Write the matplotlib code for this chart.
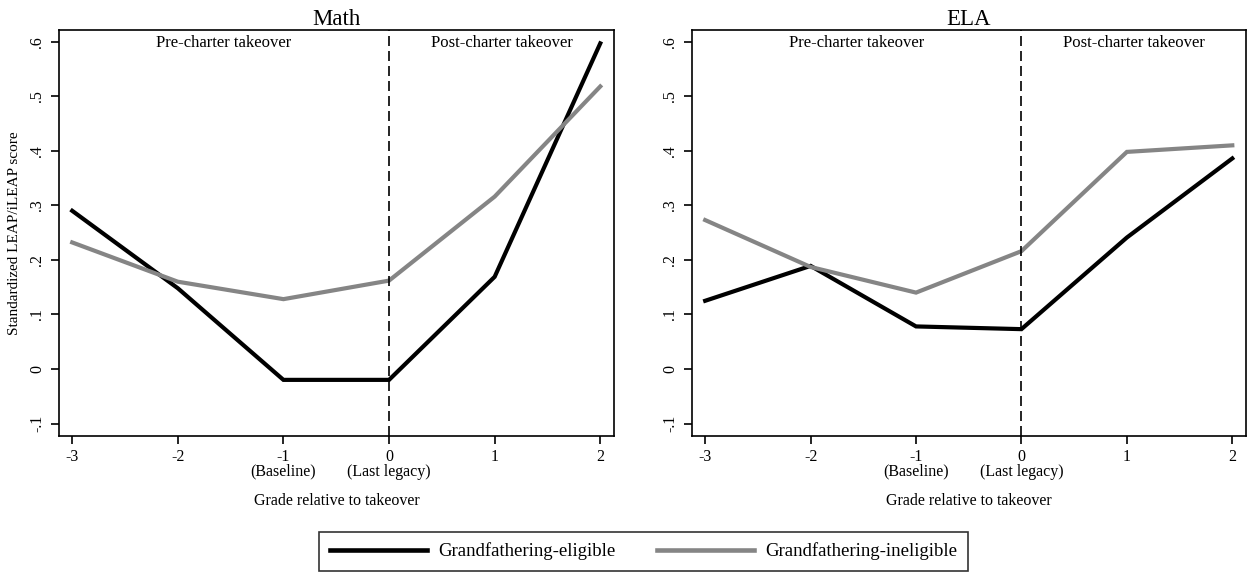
import numpy as np
import matplotlib
matplotlib.use("Agg")
import matplotlib.pyplot as plt
from matplotlib.lines import Line2D

# ---------------------------------------------------------------------
# DATA
# ---------------------------------------------------------------------
GRADES = [-3, -2, -1, 0, 1, 2]
XTICK_LABELS = ["-3", "-2", "-1\n(Baseline)", "0\n(Last legacy)", "1", "2"]
YTICKS = [-0.1, 0.0, 0.1, 0.2, 0.3, 0.4, 0.5, 0.6]
YTICK_LABELS = ["-.1", "0", ".1", ".2", ".3", ".4", ".5", ".6"]

MATH_ELIGIBLE = [0.290, 0.148, -0.020, -0.020, 0.169, 0.597]
MATH_INELIGIBLE = [0.232, 0.160, 0.128, 0.162, 0.316, 0.518]
ELA_ELIGIBLE = [0.125, 0.189, 0.078, 0.073, 0.241, 0.386]
ELA_INELIGIBLE = [0.273, 0.187, 0.140, 0.216, 0.398, 0.410]

# ---------------------------------------------------------------------
# STYLE
# ---------------------------------------------------------------------
plt.rcParams["font.family"] = ["Liberation Serif", "DejaVu Serif"]
BLACK = "#000000"
GRAY = "#858585"
LW = 3.0
XLIM = (-3.125, 2.13)
YLIM = (-0.122, 0.6215)

W, H = 1247, 575
fig = plt.figure(figsize=(W / 100, H / 100), dpi=100)


def px_axes(x0, y0, x1, y1):
    # axes from pixel box (top-left origin)
    return fig.add_axes([x0 / W, 1 - y1 / H, (x1 - x0) / W, (y1 - y0) / H])


def draw_panel(ax, title, eligible, ineligible, ylabel=None):
    ax.plot(GRADES, eligible, color=BLACK, lw=LW, solid_joinstyle="miter")
    ax.plot(GRADES, ineligible, color=GRAY, lw=LW, solid_joinstyle="miter")
    ax.axvline(0, color=BLACK, lw=1.2, linestyle=(0, (6, 3)))

    ax.set_xlim(*XLIM)
    ax.set_ylim(*YLIM)
    ax.set_xticks(GRADES)
    ax.set_xticklabels(XTICK_LABELS, fontsize=11.5, linespacing=0.85)
    ax.set_yticks(YTICKS)
    ax.set_yticklabels(YTICK_LABELS, fontsize=11.5, rotation=90, va="center")
    ax.tick_params(axis="both", direction="out", length=6, width=1.2,
                   color=BLACK, pad=4)
    for sp in ax.spines.values():
        sp.set_linewidth(1.2)

    ax.set_title(title, fontsize=16.5, pad=3)
    ax.set_xlabel("Grade relative to takeover", fontsize=11.5, labelpad=10)
    if ylabel:
        ax.set_ylabel(ylabel, fontsize=11, labelpad=6)

    ax.text((XLIM[0] + 0) / 2, 0.598, "Pre-charter takeover",
            ha="center", va="center", fontsize=12)
    ax.text((0 + XLIM[1]) / 2, 0.598, "Post-charter takeover",
            ha="center", va="center", fontsize=12)


ax1 = px_axes(59, 30, 614, 435.5)
ax2 = px_axes(692, 30, 1246, 435.5)

draw_panel(ax1, "Math", MATH_ELIGIBLE, MATH_INELIGIBLE,
           ylabel="Standardized LEAP/iLEAP score")
draw_panel(ax2, "ELA", ELA_ELIGIBLE, ELA_INELIGIBLE)

handles = [
    Line2D([], [], color=BLACK, lw=LW + 0.3),
    Line2D([], [], color=GRAY, lw=LW + 0.3),
]
leg = fig.legend(handles, ["Grandfathering-eligible", "Grandfathering-ineligible"],
                 loc="center", bbox_to_anchor=(643.5 / W, 1 - 551.5 / H),
                 ncol=2, fontsize=13.5, frameon=True, fancybox=False,
                 edgecolor=BLACK, handlelength=5.2, handletextpad=0.6,
                 columnspacing=2.2, borderpad=0.55)
leg.get_frame().set_linewidth(1.2)

fig.savefig("out.png", dpi=100, facecolor="white")
